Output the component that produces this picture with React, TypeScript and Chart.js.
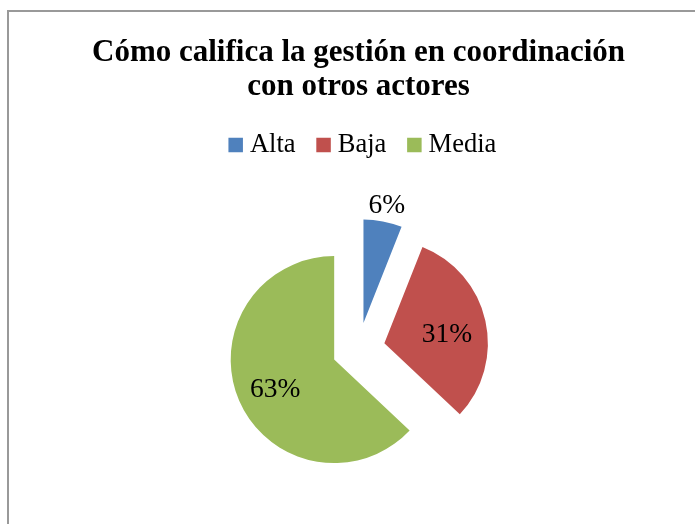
import React, { useEffect, useRef } from "react";
import { Chart, registerables } from "chart.js";

Chart.register(...registerables);

const categories = ["Alta", "Baja", "Media"];
const values = [6, 31, 63];
const sliceColors = ["#4F81BD", "#C0504D", "#9BBB59"];
const titleLines = ["Cómo califica la gestión en coordinación", "con otros actores"];

const EXPLODE = 26.5;
const LEGEND_SHIFT = 7;
const LABEL_DY = 5;
const SERIF = '"Liberation Serif", "Times New Roman", serif';

const explodePlugin = {
  id: "explodeSlices",
  afterDatasetsUpdate(chart: any) {
    const meta = chart.getDatasetMeta(0);
    meta.data.forEach((arc: any) => {
      const mid = (arc.startAngle + arc.endAngle) / 2;
      arc.x += Math.cos(mid) * EXPLODE;
      arc.y += Math.sin(mid) * EXPLODE;
    });
  },
};

const legendShiftPlugin = {
  id: "legendShift",
  afterLayout(chart: any) {
    if (chart.legend) {
      chart.legend.left += LEGEND_SHIFT;
      chart.legend.right += LEGEND_SHIFT;
    }
  },
};

const labelPlugin = {
  id: "pctLabels",
  afterDatasetsDraw(chart: any) {
    const ctx = chart.ctx;
    const meta = chart.getDatasetMeta(0);
    const total = values.reduce((a, b) => a + b, 0);
    ctx.save();
    ctx.font = `27.5px ${SERIF}`;
    ctx.fillStyle = "#000";
    ctx.textAlign = "center";
    ctx.textBaseline = "middle";
    meta.data.forEach((arc: any, i: number) => {
      const pct = (values[i] / total) * 100;
      const mid = (arc.startAngle + arc.endAngle) / 2;
      const f = pct < 10 ? 1.2 : 0.62;
      const r = arc.outerRadius * f;
      ctx.fillText(
        `${Math.round(pct)}%`,
        arc.x + Math.cos(mid) * r,
        arc.y + Math.sin(mid) * r + LABEL_DY
      );
    });
    ctx.restore();
  },
};

export default function App() {
  const canvasRef = useRef<HTMLCanvasElement | null>(null);

  useEffect(() => {
    if (!canvasRef.current) return;
    const chart = new Chart(canvasRef.current, {
      type: "pie",
      data: {
        labels: categories,
        datasets: [
          {
            data: values,
            backgroundColor: sliceColors,
            borderWidth: 0,
            radius: 103.5,
          } as any,
        ],
      },
      options: {
        responsive: false,
        animation: false,
        layout: { padding: 0 },
        plugins: {
          title: {
            display: true,
            text: titleLines,
            color: "#000",
            font: { family: SERIF, size: 31, weight: "bold", lineHeight: 1.1 },
            padding: { top: 24, bottom: 0.5 },
          },
          legend: {
            position: "top",
            labels: {
              usePointStyle: true,
              pointStyle: "rect",
              boxWidth: 2,
              boxHeight: 14.5,
              padding: 27,
              color: "#000",
              font: { family: SERIF, size: 26.5 },
            },
          },
          tooltip: { enabled: false },
        },
      } as any,
      plugins: [explodePlugin, legendShiftPlugin, labelPlugin],
    });
    return () => chart.destroy();
  }, []);

  return (
    <div
      style={{
        position: "fixed",
        left: 0,
        top: 0,
        width: 695,
        height: 524,
        overflow: "hidden",
        background: "#fff",
      }}
    >
      <div
        style={{
          position: "absolute",
          left: 7,
          top: 10,
          width: 699,
          height: 540,
          border: "2px solid #999",
        }}
      >
        <canvas ref={canvasRef} width={699} height={518} style={{ display: "block" }} />
      </div>
    </div>
  );
}
